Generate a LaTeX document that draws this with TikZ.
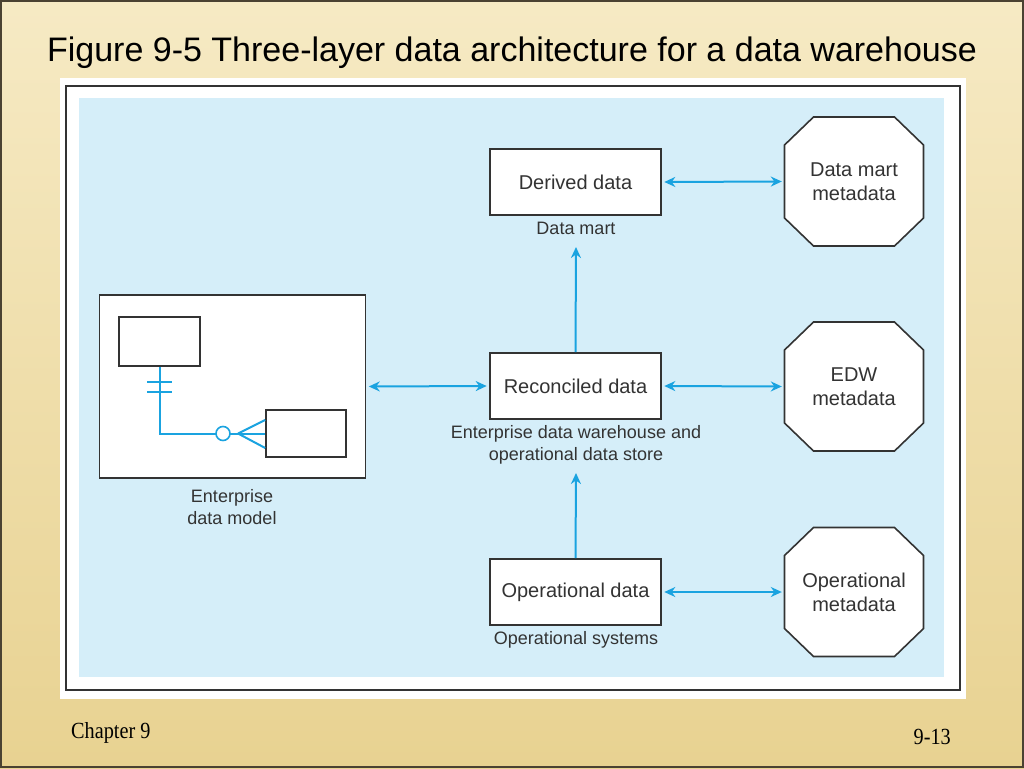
\documentclass[tikz,border=0pt]{standalone}
\usepackage{fontspec}
\setmainfont{Liberation Sans}
\newfontfamily\serifft{Liberation Serif}
\usetikzlibrary{arrows.meta,calc}
\definecolor{bgtop}{HTML}{F6EAC4}
\definecolor{bgbot}{HTML}{E8D291}
\definecolor{edgebrown}{HTML}{4A4232}
\definecolor{panel}{HTML}{D5EEF9}
\definecolor{lineblue}{HTML}{1AA3E0}
\definecolor{boxline}{HTML}{333333}
\definecolor{txt}{HTML}{333333}
\tikzset{
  databox/.style={draw=boxline, fill=white, line width=1.6pt, minimum width=171pt, minimum height=66pt, inner sep=0pt, text=txt, font=\fontsize{20}{24}\selectfont},
  smalllabel/.style={text=txt, inner sep=0pt, align=center, font=\fontsize{18}{22}\selectfont},
  octtext/.style={text=txt, inner sep=0pt, align=center, minimum width=139pt, minimum height=129pt, font=\fontsize{20}{24}\selectfont},
  octline/.style={draw=boxline, fill=white, line width=1.6pt},
  entbox/.style={draw=boxline, fill=white, line width=1.6pt, inner sep=0pt},
  conn/.style={draw=lineblue, line width=2pt},
  biarrow/.style={conn, {Stealth[length=11pt,width=10pt]}-{Stealth[length=11pt,width=10pt]}, shorten <=2.5pt, shorten >=2.5pt},
  uparrow/.style={conn, -{Stealth[length=11pt,width=10pt]}}
}
\newcommand\octagonat[1]{%
  \path[octline] ($(#1)+(-40.5,-64.5)$) -- ($(#1)+(40.5,-64.5)$) -- ($(#1)+(69.5,-36.5)$) -- ($(#1)+(69.5,36.5)$) -- ($(#1)+(40.5,64.5)$) -- ($(#1)+(-40.5,64.5)$) -- ($(#1)+(-69.5,36.5)$) -- ($(#1)+(-69.5,-36.5)$) -- cycle;}
\begin{document}
\begin{tikzpicture}[x=1pt,y=-1pt]
\useasboundingbox (0,0) rectangle (1024,768);
% slide background
\shade[top color=bgtop, bottom color=bgbot] (0,0) rectangle (1024,768);
\draw[edgebrown, line width=2pt] (1,1) rectangle (1023,767);
% title
\node[text=black, inner sep=0pt, font=\fontsize{34}{40}\selectfont] (title) at (512,53) {Figure 9-5 Three-layer data architecture for a data warehouse};
% footer
\node[text=black, inner sep=0pt, anchor=base west, font=\serifft\fontsize{22}{26}\selectfont] (chap) at (71,738) {\scalebox{0.92}[1.05]{Chapter 9}};
\node[text=black, inner sep=0pt, anchor=base east, font=\serifft\fontsize{22}{26}\selectfont] (pg) at (951,744) {\scalebox{0.92}[1.05]{9-13}};
% figure frame
\fill[white] (60,78) rectangle (966,699);
\draw[boxline, line width=1.5pt] (66,86) rectangle (960,690);
\fill[panel] (79,98) rectangle (944,677);

% data boxes
\node[databox] (der) at (575.5,182) {Derived data};
\node[databox] (rec) at (575.5,386) {Reconciled data};
\node[databox] (op) at (575.5,592) {Operational data};
\node[smalllabel] (dmlab) at (576,228) {Data mart};
\node[smalllabel] (reclab) at (576,445) {Enterprise data warehouse and\\operational data store};
\node[smalllabel] (oplab) at (576,640) {Operational systems};

% octagons
\coordinate (c1) at (854,181.5);
\coordinate (c2) at (854,386.5);
\coordinate (c3) at (854,592);
\octagonat{c1}
\octagonat{c2}
\octagonat{c3}
\node[octtext] (dmm) at (c1) {Data mart\\metadata};
\node[octtext] (edw) at (c2) {EDW\\metadata};
\node[octtext] (opm) at (c3) {Operational\\metadata};

% enterprise data model
\node[entbox, minimum width=266pt, minimum height=183pt] (ent) at (232.5,386.5) {};
\node[entbox, minimum width=81pt, minimum height=49pt] (e1) at (159.5,341.5) {};
\node[entbox, minimum width=80pt, minimum height=47pt] (e2) at (306,433.5) {};
\node[smalllabel] (entlab) at (232,507) {Enterprise\\data model};
\draw[conn] (e1.south) |- (e2.west);
\draw[conn] (147,382) -- (172,382) (147,392) -- (172,392);
\draw[conn] (238,433.5) -- ($(e2.west)+(0,-13.5)$) (238,433.5) -- ($(e2.west)+(0,14.5)$);
\draw[conn, line width=1.6pt, fill=white] (223,433.5) circle (7);

% arrows
\draw[biarrow] (der.east) -- (dmm.west);
\draw[biarrow] (rec.east) -- (edw.west);
\draw[biarrow] (op.east) -- (opm.west);
\draw[biarrow] (ent.east) -- (rec.west);
\draw[uparrow] (rec.north) -- ($(dmlab.center)+(0,19)$);
\draw[uparrow] (op.north) -- ($(reclab.center)+(0,28)$);
\end{tikzpicture}
\end{document}
